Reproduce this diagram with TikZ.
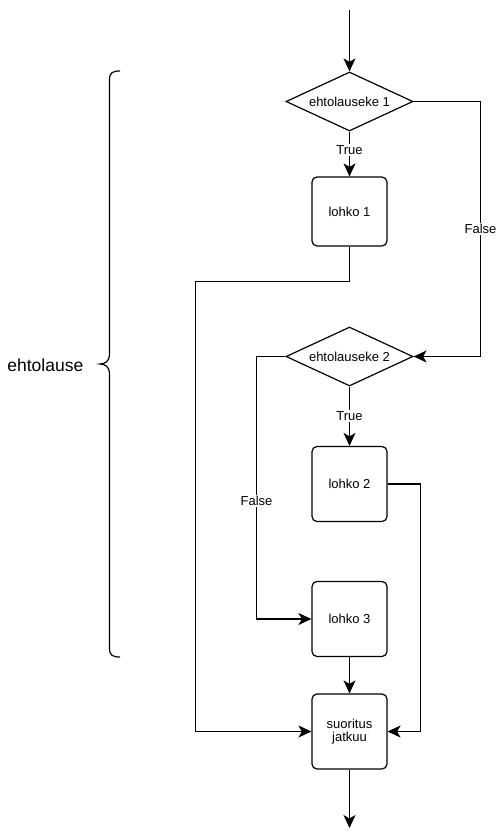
\documentclass[tikz,border=0pt]{standalone}
\usepackage{fontspec}
\setmainfont{Liberation Sans}
\usetikzlibrary{shapes.geometric,arrows.meta}
\begin{document}
\begin{tikzpicture}[x=1pt,y=-1pt,
  line width=1.2pt,
  every node/.style={font=\fontsize{13}{15.5}\selectfont},
  blockbox/.style={draw, rounded corners=5pt, minimum width=75pt, minimum height=75pt, inner sep=0pt, align=center},
  decision/.style={draw, diamond, inner sep=0pt, shape aspect=2, minimum width=127pt, minimum height=59pt},
  lbl/.style={fill=white, inner sep=1.5pt, font=\fontsize{13}{15}\selectfont},
  arr/.style={-{Stealth[length=13pt,width=12pt,inset=3.5pt]}}
]
\path[fill=white, use as bounding box] (0,0) rectangle (498,840);

\coordinate (start) at (349.5,10);
\coordinate (finish) at (349.5,828);
\node[decision] (d1) at (349.5,101.5) {\makebox[0pt]{ehtolauseke 1}};
\node[blockbox] (l1) at (349.5,211.5) [minimum height=69pt] {lohko 1};
\node[decision] (d2) at (349.5,356.5) {\makebox[0pt]{ehtolauseke 2}};
\node[blockbox] (l2) at (349.5,484) {lohko 2};
\node[blockbox] (l3) at (349.5,619) {lohko 3};
\node[blockbox] (s) at (349.5,731.5) {suoritus\\[-2pt]jatkuu};
\node[font=\fontsize{17.5}{20}\selectfont] (eh) at (45.3,365) {ehtolause};

\coordinate (xr) at (480.5,0);
\coordinate (jL) at (195.5,281.5);
\coordinate (xF) at (256.5,0);
\coordinate (xR2) at (420.5,0);

\draw[arr] (start) -- (d1.north);
\draw[arr] (d1.south) -- node[lbl, pos=0.41] (t1) {True} (l1.north);
\draw[arr] (d1.east) -- (d1.east -| xr) -- node[lbl, midway] (f1) {False} (d2.east -| xr) -- (d2.east);
\draw[arr] (l1.south) |- (jL) |- (s.west);
\draw[arr] (d2.south) -- node[lbl, midway] (t2) {True} (l2.north);
\draw[arr] (d2.west) -- (d2.west -| xF) -- node[lbl, pos=0.55] (f2) {False} (l3.west -| xF) -- (l3.west);
\draw[arr] (l2.east) -- (l2.east -| xR2) -- (s.east -| xR2) -- (s.east);
\draw[arr] (l3.south) -- (s.north);
\draw[arr] (s.south) -- (finish);

% brace
\draw (120,71) .. controls (112,71) and (109.5,73) .. (109.5,80)
  -- (109.5,355) .. controls (109.5,361) and (105,364) .. (100,364)
  .. controls (105,364) and (109.5,367) .. (109.5,373)
  -- (109.5,648) .. controls (109.5,655) and (112,657) .. (120,657);
\end{tikzpicture}
\end{document}
